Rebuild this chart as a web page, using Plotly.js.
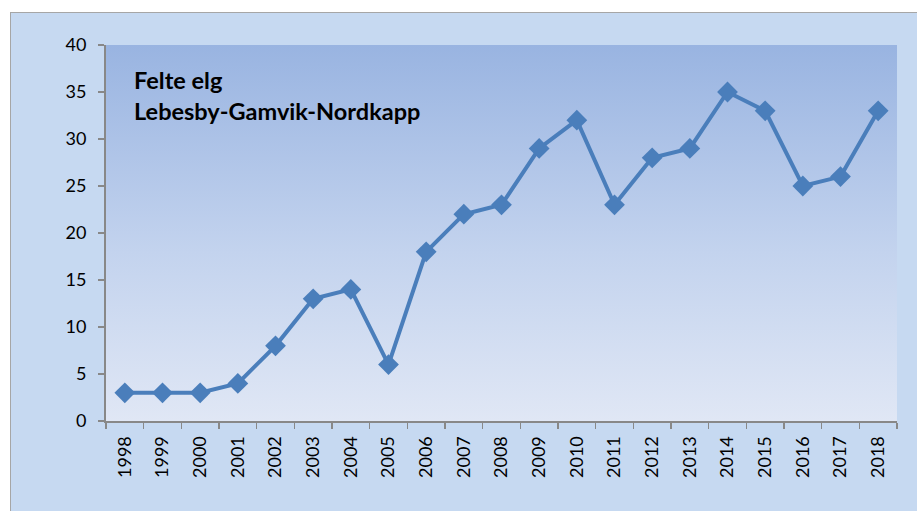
<!DOCTYPE html>
<html>
<head>
<meta charset="utf-8">
<script src="https://cdn.plot.ly/plotly-3.0.1.min.js"></script>
<style>
  html, body { margin: 0; padding: 0; background: #ffffff; width: 917px; height: 511px; overflow: hidden; }
  #frame { position: absolute; left: 10px; top: 12px; width: 1000px; height: 600px; background: #c6d9f1; border: 1px solid #a6a6a6; }
  #grad { position: absolute; left: 106px; top: 45px; width: 791px; height: 376px;
          background: linear-gradient(to bottom, #99b4e1 0%, #c3d3ee 55%, #e0e7f5 100%); }
  #chart { position: absolute; left: 0; top: 0; width: 917px; height: 511px; }
</style>
</head>
<body>
<div id="frame"></div>
<div id="grad"></div>
<div id="chart"></div>
<script>
const years = ['1998','1999','2000','2001','2002','2003','2004','2005','2006','2007','2008',
               '2009','2010','2011','2012','2013','2014','2015','2016','2017','2018'];
const felteElg = [3, 3, 3, 4, 8, 13, 14, 6, 18, 22, 23, 29, 32, 23, 28, 29, 35, 33, 25, 26, 33];
const titleLines = ['Felte elg', 'Lebesby-Gamvik-Nordkapp'];
const yTicks = [0, 5, 10, 15, 20, 25, 30, 35, 40];

const trace = {
  type: 'scatter',
  mode: 'lines+markers',
  x: years,
  y: felteElg,
  line: { color: '#4a7ebb', width: 4 },
  marker: { symbol: 'diamond', size: 16, color: '#4a7ebb' },
  cliponaxis: false,
  hoverinfo: 'x+y'
};

const layout = {
  width: 917,
  height: 511,
  margin: { l: 106, r: 20, t: 45, b: 90, pad: 0 },
  paper_bgcolor: 'rgba(0,0,0,0)',
  plot_bgcolor: 'rgba(0,0,0,0)',
  showlegend: false,
  font: { family: 'Lato, "Liberation Sans", sans-serif', color: '#000000' },
  xaxis: {
    type: 'category',
    range: [-0.5, years.length - 0.5],
    tickson: 'boundaries',
    ticks: 'outside',
    ticklen: 6,
    tickcolor: '#888888',
    tickwidth: 1.5,
    tickangle: -90,
    ticklabelstandoff: 6,
    showline: true,
    linecolor: '#888888',
    linewidth: 2,
    showgrid: false,
    zeroline: false,
    tickfont: { size: 18, family: 'Lato, sans-serif', color: '#000000' },
    fixedrange: true
  },
  yaxis: {
    range: [0, 40],
    tickvals: yTicks,
    ticks: 'outside',
    ticklen: 6,
    tickcolor: '#888888',
    tickwidth: 1.5,
    ticklabelstandoff: 8,
    showline: true,
    linecolor: '#888888',
    linewidth: 2,
    showgrid: false,
    zeroline: false,
    tickfont: { size: 18, family: 'Lato, sans-serif', color: '#000000' },
    fixedrange: true
  },
  annotations: [
    { text: '<b>' + titleLines[0] + '</b>', xref: 'paper', yref: 'paper', x: 0.033, y: (421 - 80) / 376,
      xanchor: 'left', yanchor: 'middle', showarrow: false, font: { size: 23.5, family: 'Lato, sans-serif', color: '#000' } },
    { text: '<b>' + titleLines[1] + '</b>', xref: 'paper', yref: 'paper', x: 0.033, y: (421 - 111) / 376,
      xanchor: 'left', yanchor: 'middle', showarrow: false, font: { size: 23.5, family: 'Lato, sans-serif', color: '#000' } }
  ]
};

Plotly.newPlot('chart', [trace], layout, { displayModeBar: false, staticPlot: true });
</script>
</body>
</html>
